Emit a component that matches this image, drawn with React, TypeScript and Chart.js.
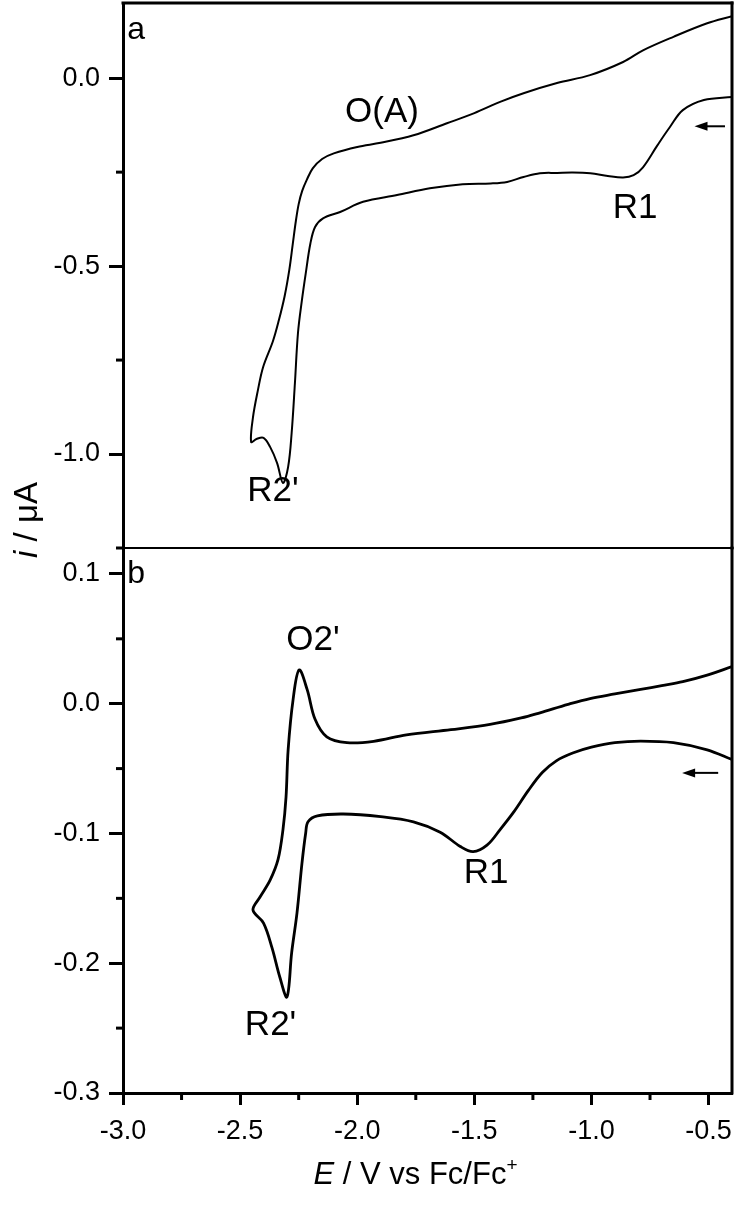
import React, { useEffect, useRef } from 'react';
import { Chart, registerables } from 'chart.js';

Chart.register(...registerables);

const FONT = '"Liberation Sans", Arial, Helvetica, sans-serif';

// ---------- axes ----------
const xMin = -3.0;
const xMax = -0.4;
const xMajorTicks = [-3.0, -2.5, -2.0, -1.5, -1.0, -0.5];
const xMinorTicks = [-2.75, -2.25, -1.75, -1.25, -0.75];

const yMinA = -1.25;
const yMaxA = 0.2;
const yMajorTicksA = [0.0, -0.5, -1.0];
const yMinorTicksA = [-0.25, -0.75, -1.25];

const yMinB = -0.3;
const yMaxB = 0.12;
const yMajorTicksB = [0.1, 0.0, -0.1, -0.2, -0.3];
const yMinorTicksB = [0.05, -0.05, -0.15, -0.25];

// ---------- panel a: cyclic voltammogram (sweep starts at right, goes left) ----------
const potentialA = [
  -0.40, -0.52, -0.61, -0.665, -0.72, -0.78, -0.82, -0.865, -0.93, -1.005,
  -1.08, -1.147, -1.22, -1.29, -1.36, -1.43, -1.55, -1.69, -1.83, -1.975,
  -2.073, -2.146, -2.18, -2.20, -2.22, -2.236, -2.253, -2.266, -2.28, -2.295,
  -2.317, -2.342, -2.372, -2.40, -2.43, -2.453,
  -2.445, -2.424, -2.402, -2.36, -2.335, -2.31, -2.29, -2.275, -2.262, -2.25,
  -2.235, -2.215, -2.19, -2.15, -2.10, -2.00, -1.90, -1.76, -1.617, -1.50,
  -1.39, -1.29, -1.147, -1.006, -0.865, -0.78, -0.65, -0.506, -0.40,
];
const currentA = [
  -0.050, -0.058, -0.085, -0.130, -0.180, -0.237, -0.258, -0.264, -0.260, -0.253,
  -0.251, -0.252, -0.253, -0.263, -0.276, -0.280, -0.282, -0.293, -0.311, -0.329,
  -0.356, -0.373, -0.396, -0.440, -0.520, -0.590, -0.678, -0.811, -0.944, -1.034,
  -1.077, -1.024, -0.981, -0.957, -0.960, -0.968,
  -0.902, -0.830, -0.769, -0.700, -0.645, -0.580, -0.510, -0.440, -0.380, -0.335,
  -0.300, -0.270, -0.240, -0.215, -0.200, -0.183, -0.172, -0.152, -0.120, -0.093,
  -0.063, -0.040, -0.013, 0.008, 0.043, 0.074, 0.110, 0.146, 0.165,
];

// ---------- panel b ----------
const potentialB = [
  -0.40, -0.506, -0.65, -0.79, -0.90, -1.00, -1.08, -1.15, -1.21, -1.27,
  -1.33, -1.39, -1.446, -1.505, -1.56, -1.646, -1.76, -1.90, -2.06, -2.17,
  -2.21, -2.22, -2.236, -2.257, -2.28, -2.30, -2.33, -2.364, -2.40, -2.445,
  -2.415, -2.372, -2.338, -2.317, -2.304, -2.295, -2.274, -2.248, -2.214, -2.18,
  -2.13, -2.044, -1.93, -1.79, -1.60, -1.433, -1.30, -1.22, -1.10, -1.006,
  -0.90, -0.79, -0.70, -0.61, -0.506, -0.40,
];
const currentB = [
  -0.043, -0.0355, -0.030, -0.0288, -0.030, -0.0335, -0.038, -0.044, -0.053, -0.067,
  -0.083, -0.097, -0.109, -0.114, -0.110, -0.099, -0.091, -0.087, -0.085, -0.0865,
  -0.091, -0.0996, -0.123, -0.161, -0.192, -0.226, -0.211, -0.188, -0.169, -0.159,
  -0.149, -0.136, -0.120, -0.097, -0.072, -0.0355, 0.003, 0.026, 0.011, -0.012,
  -0.0255, -0.030, -0.029, -0.024, -0.020, -0.016, -0.011, -0.007, -0.0005, 0.004,
  0.0075, 0.011, 0.014, 0.017, 0.022, 0.0286,
];

// ---------- annotations (data coordinates) ----------
const labelTextsA = ['a', 'O(A)', 'R1', "R2'"];
const labelXA = [-2.944, -1.894, -0.814, -2.36];
const labelYA = [0.128, -0.090, -0.346, -1.10];
const labelSizesA = [32, 35, 35, 35];

const labelTextsB = ['b', "O2'", 'R1', "R2'"];
const labelXB = [-2.944, -2.189, -1.45, -2.37];
const labelYB = [0.100, 0.0486, -0.1305, -0.248];
const labelSizesB = [32, 35, 35, 35];

const arrowA = { fromX: -0.43, toX: -0.56, y: -0.128 };
const arrowB = { fromX: -0.459, toX: -0.613, y: -0.0533 };

type Part = { text: string; italic?: boolean; sup?: boolean };

function drawRich(ctx: CanvasRenderingContext2D, parts: Part[], size: number, cx: number, cy: number, rot: number) {
  const fontOf = (p: Part) => `${p.italic ? 'italic ' : ''}${p.sup ? Math.round(size * 0.6) : size}px ${FONT}`;
  let total = 0;
  const widths = parts.map((p) => {
    ctx.font = fontOf(p);
    const w = ctx.measureText(p.text).width;
    total += w;
    return w;
  });
  ctx.save();
  ctx.translate(cx, cy);
  ctx.rotate(rot);
  ctx.textBaseline = 'alphabetic';
  ctx.textAlign = 'left';
  let x = -total / 2;
  const base = size * 0.36;
  parts.forEach((p, k) => {
    ctx.font = fontOf(p);
    ctx.fillText(p.text, x, p.sup ? base - size * 0.42 : base);
    x += widths[k];
  });
  ctx.restore();
}

const decorPlugin = {
  id: 'cvDecor',
  afterDraw(chart: any, _args: any, opts: any) {
    const { ctx, chartArea: ca, scales } = chart;
    const xs = scales.x;
    const ys = scales.y;
    const line = (x1: number, y1: number, x2: number, y2: number) => {
      ctx.beginPath();
      ctx.moveTo(x1, y1);
      ctx.lineTo(x2, y2);
      ctx.stroke();
    };
    ctx.save();
    ctx.strokeStyle = '#000';
    ctx.fillStyle = '#000';
    ctx.lineCap = 'butt';
    // frame
    ctx.lineWidth = 3;
    if (opts.frameTop) line(ca.left - 1.5, ca.top, ca.right + 1.5, ca.top);
    line(ca.right, ca.top - 1.5, ca.right, ca.bottom + 1.5);
    if (opts.separator) {
      ctx.lineWidth = 2;
      line(ca.left, ca.bottom, ca.right + 1.5, ca.bottom);
    }
    // minor ticks
    ctx.lineWidth = 3;
    (opts.minorY || []).forEach((v: number) => {
      const py = ys.getPixelForValue(v);
      line(ca.left - 7, py, ca.left, py);
    });
    (opts.minorX || []).forEach((v: number) => {
      const px = xs.getPixelForValue(v);
      line(px, ca.bottom, px, ca.bottom + 7);
    });
    // arrow
    if (opts.arrow) {
      const a = opts.arrow;
      const x1 = xs.getPixelForValue(a.fromX);
      const x2 = xs.getPixelForValue(a.toX);
      const y = ys.getPixelForValue(a.y);
      ctx.lineWidth = 2;
      line(x1, y, x2 + 10, y);
      ctx.beginPath();
      ctx.moveTo(x2, y);
      ctx.lineTo(x2 + 13, y - 4.5);
      ctx.lineTo(x2 + 13, y + 4.5);
      ctx.closePath();
      ctx.fill();
    }
    // labels
    ctx.textAlign = 'center';
    ctx.textBaseline = 'middle';
    (opts.labels || []).forEach((l: any) => {
      ctx.font = `${l.size}px ${FONT}`;
      ctx.fillText(l.text, xs.getPixelForValue(l.x), ys.getPixelForValue(l.y));
    });
    // axis titles
    if (opts.yTitle) {
      drawRich(ctx, [{ text: 'i', italic: true }, { text: ' / μA' }], 33, ca.left - 98, ca.bottom - 28, -Math.PI / 2);
    }
    if (opts.xTitle) {
      drawRich(
        ctx,
        [{ text: 'E', italic: true }, { text: ' / V vs Fc/Fc' }, { text: '+', sup: true }],
        31,
        (ca.left + ca.right) / 2 - 12,
        ca.bottom + 80,
        0
      );
    }
    ctx.restore();
  },
};

function yScale(min: number, max: number, majors: number[]) {
  return {
    type: 'linear',
    position: 'left',
    min,
    max,
    afterBuildTicks: (s: any) => {
      s.ticks = majors.map((v) => ({ value: v }));
    },
    afterFit: (s: any) => {
      s.width = 123;
      s.paddingTop = 0;
      s.paddingBottom = 0;
    },
    ticks: {
      font: { family: FONT, size: 27 },
      color: '#000',
      padding: 9,
      callback: (v: any) => Number(v).toFixed(1),
    },
    grid: {
      display: true,
      drawOnChartArea: false,
      drawTicks: true,
      tickLength: 14,
      tickWidth: 3,
      tickColor: '#000',
    },
    border: { display: true, width: 3, color: '#000' },
  };
}

function makeConfig(panel: 'a' | 'b'): any {
  const isA = panel === 'a';
  const xs = isA ? potentialA : potentialB;
  const ys = isA ? currentA : currentB;
  const texts = isA ? labelTextsA : labelTextsB;
  const lx = isA ? labelXA : labelXB;
  const ly = isA ? labelYA : labelYB;
  const lsz = isA ? labelSizesA : labelSizesB;
  return {
    type: 'line',
    data: {
      datasets: [
        {
          data: xs.map((x, k) => ({ x, y: ys[k] })),
          borderColor: '#000',
          borderWidth: isA ? 2 : 2.8,
          pointRadius: 0,
          tension: 0.35,
          fill: false,
          borderJoinStyle: 'round',
        },
      ],
    },
    options: {
      responsive: false,
      animation: false,
      events: [],
      layout: { padding: isA ? { left: 0, right: 8, top: 3, bottom: 52 } : { left: 0, right: 8, top: 3, bottom: 65 } },
      plugins: {
        legend: { display: false },
        tooltip: { enabled: false },
        cvDecor: {
          frameTop: isA,
          separator: isA,
          minorY: isA ? yMinorTicksA : yMinorTicksB,
          minorX: isA ? [] : xMinorTicks,
          arrow: isA ? arrowA : arrowB,
          labels: texts.map((t, k) => ({ text: t, x: lx[k], y: ly[k], size: lsz[k] })),
          yTitle: isA,
          xTitle: !isA,
        },
      },
      scales: {
        x: {
          type: 'linear',
          min: xMin,
          max: xMax,
          display: !isA,
          position: 'bottom',
          afterBuildTicks: (s: any) => {
            s.ticks = xMajorTicks.map((v) => ({ value: v }));
          },
          afterFit: (s: any) => {
            s.height = isA ? 0 : 48;
            s.paddingLeft = 0;
            s.paddingRight = 0;
          },
          ticks: {
            font: { family: FONT, size: 27 },
            color: '#000',
            padding: 10,
            maxRotation: 0,
            autoSkip: false,
            callback: (v: any) => Number(v).toFixed(1),
          },
          grid: {
            display: true,
            drawOnChartArea: false,
            drawTicks: true,
            tickLength: 12,
            tickWidth: 3,
            tickColor: '#000',
          },
          border: { display: true, width: 3, color: '#000' },
        },
        y: isA ? yScale(yMinA, yMaxA, yMajorTicksA) : yScale(yMinB, yMaxB, yMajorTicksB),
      },
    },
    plugins: [decorPlugin],
  };
}

export default function App() {
  const refA = useRef<HTMLCanvasElement>(null);
  const refB = useRef<HTMLCanvasElement>(null);
  useEffect(() => {
    const a = new Chart(refA.current as HTMLCanvasElement, makeConfig('a'));
    const b = new Chart(refB.current as HTMLCanvasElement, makeConfig('b'));
    return () => {
      a.destroy();
      b.destroy();
    };
  }, []);
  return (
    <div style={{ position: 'absolute', left: 0, top: 0, width: 740, height: 1206, background: '#fff' }}>
      <canvas ref={refA} width={740} height={600} style={{ position: 'absolute', left: 0, top: 0, width: 740, height: 600 }} />
      <canvas ref={refB} width={740} height={661} style={{ position: 'absolute', left: 0, top: 545, width: 740, height: 661 }} />
    </div>
  );
}
